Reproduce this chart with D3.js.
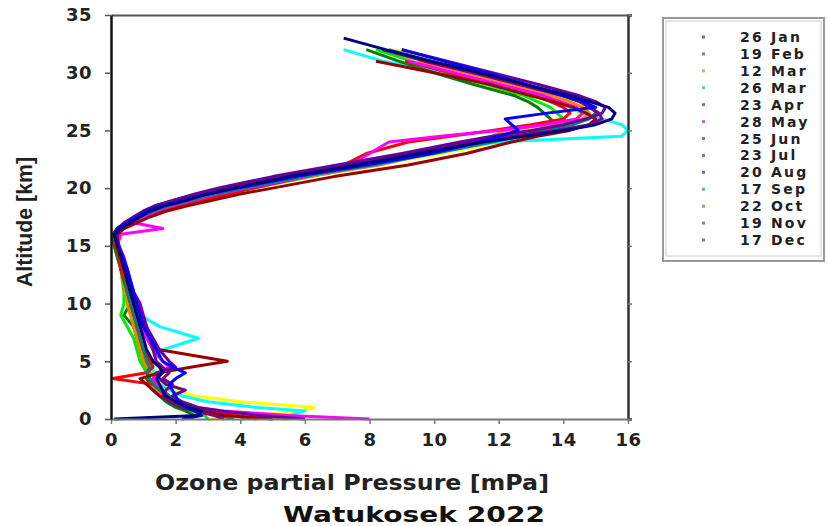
<!DOCTYPE html>
<html>
<head>
<meta charset="utf-8">
<script src="https://cdn.jsdelivr.net/npm/d3@7"></script>
<style>
  body { margin: 0; background: #fff; }
  svg { display: block; }
  .axis text { font-family: "DejaVu Sans", sans-serif; font-weight: bold; font-size: 18px; fill: #222; letter-spacing: 0.5px; }
  .legend text { font-family: "DejaVu Sans", sans-serif; font-weight: bold; font-size: 14px; fill: #222; letter-spacing: 2.2px; }
</style>
</head>
<body>
<svg></svg>
<script>
// altitude levels [km] shared by every sounding
let altitude = [0, 0.3, 0.7, 1, 1.5, 2, 2.5, 3, 3.5, 4, 4.5, 5, 6, 7, 8, 9, 10, 11, 12, 13, 14, 15, 16, 16.5,
  17, 17.5, 18, 18.5, 19, 19.5, 20, 21, 22, 23, 24, 24.5, 25, 25.5, 26, 26.5, 27, 27.5, 28, 29, 30, 31, 32, 33];

// ozone partial pressure [mPa] for each sounding
let jan26 = [0.1, 2.7, 2.8, 2.4, 2.0, 1.7, 1.6, 1.5, 1.4, 1.6, 1.5, 1.3, 1.1, 1.0, 0.9, 0.8, 0.7, 0.6, 0.5, 0.4, 0.3, 0.2, 0.1, 0.3,
  0.6, 0.9, 1.2, 1.7, 2.4, 3.0, 3.8, 5.5, 7.6, 9.5, 11.5, 12.8, 14.0, 15.0, 15.5, 15.6, 15.4, 14.8, 14.2, 12.8, 11.4, 9.9, 8.5, 7.2];
let feb19 = [2.5, 2.6, 2.3, 2.0, 1.7, 1.5, 1.3, 1.2, 1.1, 1.2, 1.1, 1.0, 0.9, 0.8, 0.7, 0.4, 0.6, 0.5, 0.4, 0.3, 0.2, 0.1, 0.05, 0.2,
  0.5, 0.8, 1.1, 1.5, 2.2, 2.9, 3.7, 5.6, 7.8, 9.8, 11.6, 12.6, 13.4, 13.8, 13.6, 13.4, 13.2, 12.9, 12.5, 11.2, 10.0, 8.9, 7.9, null];
let mar12 = [3.0, 4.5, 5.8, 6.3, 4.0, 2.6, 2.0, 1.6, 1.3, 1.4, 1.2, 1.0, 0.9, 0.8, 0.7, 0.6, 0.5, 0.4, 0.35, 0.3, 0.2, 0.15, 0.1, 0.3,
  0.6, 1.0, 1.4, 2.0, 2.7, 3.4, 4.2, 6.0, 8.2, 10.2, 12.0, 12.9, 13.6, 14.2, 14.4, 14.5, 14.3, 14.0, 13.6, 12.4, 11.0, 10.0, 8.8, null];
let mar26 = [4.0, 5.5, 6.0, 4.5, 3.0, 2.2, 1.8, 1.5, 1.4, 1.3, 1.3, 1.3, 1.6, 2.7, 1.5, 0.9, 0.7, 0.6, 0.5, 0.4, 0.3, 0.2, 0.15, 0.3,
  0.6, 0.9, 1.3, 1.8, 2.5, 3.2, 4.0, 5.6, 7.4, 9.4, 12.0, 15.8, 16.0, 15.8, 15.2, 14.6, 14.2, 13.8, 13.4, 12.0, 10.5, 8.4, 7.2, null];
let apr23 = [3.5, 3.2, 2.6, 2.2, 1.8, 1.6, 1.7, 1.9, 1.6, 1.8, 1.6, 1.4, 1.3, 1.2, 1.1, 1.0, 0.9, 0.7, 0.6, 0.5, 0.4, 0.25, 0.1, 0.2,
  0.4, 0.7, 1.0, 1.4, 2.0, 2.7, 3.5, 5.3, 7.4, 9.2, 11.0, 12.4, 13.8, 14.8, 15.2, 15.1, 14.8, 14.5, 14.0, 12.6, 11.2, 9.7, 8.4, null];
let may28 = [8.0, 5.5, 3.5, 2.6, 2.0, 1.7, 1.5, 1.4, 1.3, 1.5, 1.8, 1.6, 1.3, 1.1, 0.9, 0.8, 0.7, 0.6, 0.5, 0.4, 0.3, 0.2, 0.3, 1.6,
  0.7, 1.0, 1.4, 1.9, 2.6, 3.3, 4.2, 6.0, 7.4, 8.0, 8.6, 10.2, 12.0, 13.4, 14.4, 14.6, 14.4, 13.9, 13.4, 12.0, 10.6, 9.2, null, null];
let jun25 = [4.5, 3.8, 3.0, 2.4, 2.0, 1.8, 1.6, 1.3, 0.05, 1.1, 1.3, 1.2, 1.0, 0.9, 0.8, 0.7, 0.6, 0.5, 0.4, 0.3, 0.25, 0.15, 0.1, 0.3,
  0.7, 1.1, 1.6, 2.2, 2.9, 3.6, 4.4, 6.0, 7.2, 7.9, 9.2, 10.5, 11.8, 13.0, 14.0, 14.2, 14.0, 13.6, 13.1, 11.8, 10.5, 9.1, null, null];
let jul23 = [5.0, 3.5, 2.8, 2.3, 1.9, 1.5, 1.3, 1.1, 0.9, 1.5, 2.5, 3.6, 1.5, 1.2, 1.0, 0.8, 0.7, 0.6, 0.5, 0.4, 0.3, 0.2, 0.2, 0.4,
  0.8, 1.2, 1.7, 2.4, 3.2, 4.0, 5.0, 6.9, 9.2, 11.0, 12.4, 13.2, 14.2, 14.8, 15.0, 14.7, 14.3, 13.7, 13.0, 11.7, 10.0, 8.2, null, null];
let aug20 = [2.2, 2.8, 2.6, 2.3, 2.1, 2.0, 1.9, 1.8, 2.0, 2.3, 1.9, 1.6, 1.4, 1.2, 1.0, 0.9, 0.8, 0.7, 0.6, 0.5, 0.35, 0.2, 0.1, 0.2,
  0.5, 0.8, 1.1, 1.6, 2.3, 3.0, 3.9, 5.7, 7.9, 9.9, 11.4, 12.0, 12.6, 12.4, 12.2, 13.5, 15.0, 14.6, 14.0, 12.8, 11.6, 10.3, 9.0, null];
let sep17 = [3.0, 2.9, 2.5, 2.1, 1.8, 1.6, 1.4, 1.3, 1.2, 1.1, 1.0, 0.9, 0.8, 0.7, 0.5, 0.3, 0.4, 0.4, 0.35, 0.3, 0.2, 0.1, 0.1, 0.3,
  0.6, 1.0, 1.5, 2.1, 2.8, 3.6, 4.4, 6.2, 8.0, 9.6, 11.0, 12.0, 13.2, 14.2, 14.0, 13.8, 13.6, 13.2, 12.8, 11.6, 10.4, 9.3, 8.2, null];
let oct22 = [5.5, 4.0, 3.0, 2.4, 1.9, 1.6, 1.4, 1.2, 1.4, 1.2, 1.1, 1.0, 0.9, 0.8, 0.7, 0.6, 0.5, 0.45, 0.4, 0.35, 0.3, 0.2, 0.15, 0.4,
  0.7, 1.1, 1.5, 2.0, 2.7, 3.5, 4.3, 6.1, 8.3, 9.8, 11.2, 11.8, 12.2, 13.5, 14.6, 14.8, 14.6, 14.2, 13.7, 12.4, 11.0, 9.5, null, null];
let nov19 = [3.8, 3.4, 2.9, 2.5, 2.1, 1.8, 1.5, 1.3, 1.2, 1.1, 1.2, 1.1, 1.0, 0.9, 0.8, 0.7, 0.6, 0.5, 0.45, 0.4, 0.3, 0.2, 0.1, 0.25,
  0.55, 0.9, 1.3, 1.8, 2.5, 3.2, 4.1, 5.9, 8.1, 10.0, 11.8, 12.7, 13.5, 14.3, 14.8, 15.0, 14.9, 14.5, 14.0, 12.7, 11.3, 9.9, 8.6, null];
let dec17 = [6.0, 4.6, 3.4, 2.7, 2.2, 1.9, 2.3, 1.7, 1.5, 1.4, 2.0, 1.8, 1.5, 1.3, 1.1, 0.95, 0.8, 0.65, 0.55, 0.45, 0.35, 0.25, 0.15, 0.2,
  0.45, 0.7, 1.0, 1.4, 2.0, 2.6, 3.3, 5.0, 7.0, 9.0, 10.8, 11.8, 13.0, 14.0, 14.7, 15.2, 15.3, 15.0, 14.5, 13.2, 11.8, 10.4, 9.0, null];

let dates = ['26 Jan', '19 Feb', '12 Mar', '26 Mar', '23 Apr', '28 May', '25 Jun', '23 Jul', '20 Aug', '17 Sep', '22 Oct', '19 Nov', '17 Dec'];
let soundings = [jan26, feb19, mar12, mar26, apr23, may28, jun25, jul23, aug20, sep17, oct22, nov19, dec17];
let colors = ['#000080', '#008000', '#ffff00', '#00ffff', '#800080', '#ff00ff', '#ff0000', '#990000', '#0000ff', '#00ee00', '#ff8000', '#008080', '#660099'];

// drawing order, navy and blue last so they sit on top
let drawOrder = [2, 3, 9, 1, 10, 6, 5, 11, 7, 4, 12, 8, 0];

let xTicks = [0, 2, 4, 6, 8, 10, 12, 14, 16];
let yTicks = [0, 5, 10, 15, 20, 25, 30, 35];

// configuration of svg/plot area
let config = { 'svg': {}, 'plot': {} };
config.svg.width = 827;
config.svg.height = 526;
config.plot.left = 111;
config.plot.right = 628;
config.plot.top = 15;
config.plot.bottom = 419;

let svg = d3.select('svg')
  .attr('width', config.svg.width)
  .attr('height', config.svg.height);

// scales
let scale = {};
scale.x = d3.scaleLinear().domain([0, 16]).range([config.plot.left, config.plot.right]);
scale.y = d3.scaleLinear().domain([0, 35]).range([config.plot.bottom, config.plot.top]);

// profile lines
let line = d3.line()
  .defined(d => d.p !== null)
  .x(d => scale.x(d.p))
  .y(d => scale.y(d.z));

let plot = svg.append('g').attr('id', 'plot');

drawOrder.forEach(function(i) {
  let points = soundings[i].map((p, j) => ({ 'p': p, 'z': altitude[j] }));
  plot.append('path')
    .datum(points)
    .attr('fill', 'none')
    .attr('stroke', colors[i])
    .attr('stroke-width', 3)
    .attr('stroke-linejoin', 'round')
    .attr('d', line);
});

// frame: top and right (light), then bottom and left
let gTop = svg.append('g')
  .attr('class', 'axis')
  .attr('transform', translate(0, config.plot.top))
  .call(d3.axisTop(scale.x).tickValues(xTicks).tickSize(0).tickFormat(''));
gTop.select('.domain').attr('stroke', '#555').attr('stroke-width', 2);

let gRight = svg.append('g')
  .attr('class', 'axis')
  .attr('transform', translate(config.plot.right, 0))
  .call(d3.axisRight(scale.y).tickValues(yTicks).tickSize(4).tickFormat(''));
gRight.select('.domain').attr('stroke', '#333').attr('stroke-width', 2.5);
gRight.selectAll('.tick line').attr('stroke', '#777').attr('stroke-width', 1.5);

let gBottom = svg.append('g')
  .attr('class', 'axis')
  .attr('transform', translate(0, config.plot.bottom))
  .call(d3.axisBottom(scale.x).tickValues(xTicks).tickSize(5).tickPadding(9).tickSizeOuter(0));
gBottom.select('.domain').attr('stroke', '#777').attr('stroke-width', 2);
gBottom.selectAll('.tick line').attr('stroke', '#777').attr('stroke-width', 1.5);

let gLeft = svg.append('g')
  .attr('class', 'axis')
  .attr('transform', translate(config.plot.left, 0))
  .call(d3.axisLeft(scale.y).tickValues(yTicks).tickSize(6).tickPadding(13).tickSizeOuter(0));
gLeft.select('.domain').attr('stroke', '#111').attr('stroke-width', 2.5);
gLeft.selectAll('.tick line').attr('stroke', '#555').attr('stroke-width', 1.5);

// axis titles, stretched to the wide lettering of the original
svg.append('text')
  .attr('x', 352)
  .attr('y', 490)
  .attr('text-anchor', 'middle')
  .attr('textLength', 394)
  .attr('lengthAdjust', 'spacingAndGlyphs')
  .style('font-family', '"DejaVu Sans", sans-serif')
  .style('font-weight', 'bold')
  .style('font-size', '21px')
  .style('fill', '#222')
  .text('Ozone partial Pressure [mPa]');

svg.append('text')
  .attr('transform', translate(32, 222) + ' rotate(-90)')
  .attr('text-anchor', 'middle')
  .attr('textLength', 130)
  .attr('lengthAdjust', 'spacingAndGlyphs')
  .style('font-family', '"Liberation Sans Narrow", "Liberation Sans", sans-serif')
  .style('font-weight', 'bold')
  .style('font-size', '22px')
  .style('fill', '#222')
  .text('Altitude [km]');

svg.append('text')
  .attr('x', 414)
  .attr('y', 522)
  .attr('text-anchor', 'middle')
  .attr('textLength', 262)
  .attr('lengthAdjust', 'spacingAndGlyphs')
  .style('font-family', '"DejaVu Sans", sans-serif')
  .style('font-weight', 'bold')
  .style('font-size', '22px')
  .style('fill', '#111')
  .text('Watukosek 2022');

// legend
let legend = svg.append('g').attr('class', 'legend');
legend.append('rect')
  .attr('x', 663).attr('y', 18).attr('width', 161).attr('height', 243)
  .attr('fill', '#fff').attr('stroke', '#999').attr('stroke-width', 2);
legend.append('rect')
  .attr('x', 666).attr('y', 21).attr('width', 155).attr('height', 235)
  .attr('fill', 'none').attr('stroke', '#ccc').attr('stroke-width', 1);

let rowY = d3.scalePoint().domain(dates).range([37, 240]);

let rows = legend.selectAll('g.row')
  .data(dates)
  .enter()
  .append('g')
  .attr('class', 'row')
  .attr('transform', d => translate(0, rowY(d)));

rows.append('rect')
  .attr('x', 702).attr('y', -1.5).attr('width', 3).attr('height', 3)
  .attr('fill', (d, i) => d3.interpolateRgb(colors[i], '#777')(0.6))
  .attr('opacity', 0.8);

rows.append('text')
  .attr('x', 740)
  .attr('dy', '0.36em')
  .text(d => d);

// helper method to make translating easier
function translate(x, y) {
  return 'translate(' + x + ',' + y + ')';
}
</script>
</body>
</html>
